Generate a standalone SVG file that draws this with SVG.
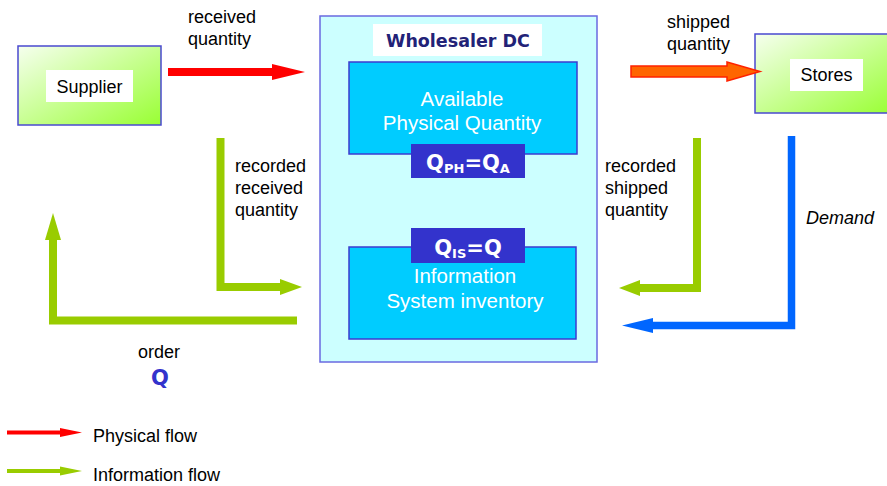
<svg xmlns="http://www.w3.org/2000/svg" width="887" height="486" viewBox="0 0 887 486">
<defs>
<linearGradient id="gg" x1="0" y1="0" x2="1" y2="1">
<stop offset="0" stop-color="#f6ffef"/>
<stop offset="1" stop-color="#99ff33"/>
</linearGradient>
<style>
.t{font-family:"Liberation Sans",Arial,sans-serif;font-size:18px;fill:#000}
.w{font-family:"Liberation Sans",Arial,sans-serif;font-size:20.5px;fill:#fff;text-anchor:middle}
.b{font-family:"DejaVu Sans",Verdana,sans-serif;font-weight:bold}
.ext{fill:url(#gg);stroke:#4a4ad0;stroke-width:1.5}
.lbl{fill:#fff}
.inner{fill:#00ccff;stroke:#3b3bd0;stroke-width:1.5}
.qbox{fill:#3333cc}
.gl{fill:none;stroke:#99cc00;stroke-width:8}
.gh{fill:#99cc00}
</style>
</defs>

<g id="supplier">
<rect class="ext" x="18" y="46" width="143" height="79"/>
<rect class="lbl" x="46" y="70" width="87" height="32"/>
<text class="t" x="89.5" y="93" text-anchor="middle">Supplier</text>
</g>

<g id="stores">
<rect class="ext" x="755" y="34" width="140" height="79"/>
<rect class="lbl" x="790" y="59" width="73" height="32"/>
<text class="t" x="826.5" y="81" text-anchor="middle">Stores</text>
</g>

<g id="wholesaler-dc">
<rect x="320" y="16" width="277" height="346" fill="#ccffff" stroke="#6a6ae0" stroke-width="1.5"/>
<rect class="lbl" x="373" y="24" width="169" height="32"/>
<text class="b" x="458" y="47" font-size="17.5" fill="#222277" text-anchor="middle">Wholesaler DC</text>
</g>

<g id="available-physical">
<rect class="inner" x="349" y="62" width="228" height="92"/>
<text class="w" x="462" y="106">Available</text>
<text class="w" x="462" y="130">Physical Quantity</text>
<rect class="qbox" x="411" y="144" width="114" height="34"/>
<text class="b" x="468" y="170" font-size="21" fill="#fff" text-anchor="middle">Q<tspan font-size="13" dy="3">PH</tspan><tspan dy="-3">=Q</tspan><tspan font-size="13" dy="3">A</tspan></text>
</g>

<g id="information-system">
<rect class="inner" x="349" y="247" width="227" height="92"/>
<rect class="qbox" x="411" y="228" width="114" height="35"/>
<text class="b" x="468" y="255" font-size="21" fill="#fff" text-anchor="middle">Q<tspan font-size="13" dy="3">IS</tspan><tspan dy="-3">=Q</tspan></text>
<text class="w" x="465" y="283">Information</text>
<text class="w" x="465" y="308">System inventory</text>
</g>

<g id="connectors">
<polygon points="168,68 272,68 272,64 305,72 272,80 272,76 168,76" fill="#ff0000"/>
<polygon points="631,66 727,66 727,62 760,71.5 727,81 727,77 631,77" fill="#ff6600" stroke="#ff2200" stroke-width="1.5"/>
<path class="gl" d="M220.5,138 V287 H282"/>
<polygon class="gh" points="280,279 302,287 280,295"/>
<path class="gl" d="M297,320.5 H53 V238"/>
<polygon class="gh" points="45,240 53,213 61,240"/>
<path class="gl" d="M697,138 V288 H638"/>
<polygon class="gh" points="640,280 619,288 640,296"/>
<path d="M791.5,136 V325.5 H650" fill="none" stroke="#0066ff" stroke-width="7.5"/>
<polygon points="653,318 622,325.5 653,333" fill="#0066ff"/>
</g>

<g id="labels">
<text class="t" x="188" y="23">received</text>
<text class="t" x="188" y="45">quantity</text>
<text class="t" x="667" y="28">shipped</text>
<text class="t" x="667" y="50">quantity</text>
<text class="t" x="235" y="172">recorded</text>
<text class="t" x="235" y="194">received</text>
<text class="t" x="235" y="216">quantity</text>
<text class="t" x="605" y="172">recorded</text>
<text class="t" x="605" y="194">shipped</text>
<text class="t" x="605" y="216">quantity</text>
<text class="t" x="806" y="224" font-size="21" font-style="italic">Demand</text>
<text class="t" x="159" y="358" font-size="21.5" text-anchor="middle">order</text>
<text class="b" x="160" y="385" font-size="21" fill="#3333cc" text-anchor="middle">Q</text>
</g>

<g id="legend">
<path d="M7,432.5 H62" stroke="#ff0000" stroke-width="4"/>
<polygon points="60,428 82,432.5 60,437" fill="#ff0000"/>
<text class="t" x="93" y="442">Physical flow</text>
<path d="M7,471 H62" stroke="#99cc00" stroke-width="4"/>
<polygon points="60,466.5 82,471 60,475.5" fill="#99cc00"/>
<text class="t" x="93" y="481">Information flow</text>
</g>
</svg>
